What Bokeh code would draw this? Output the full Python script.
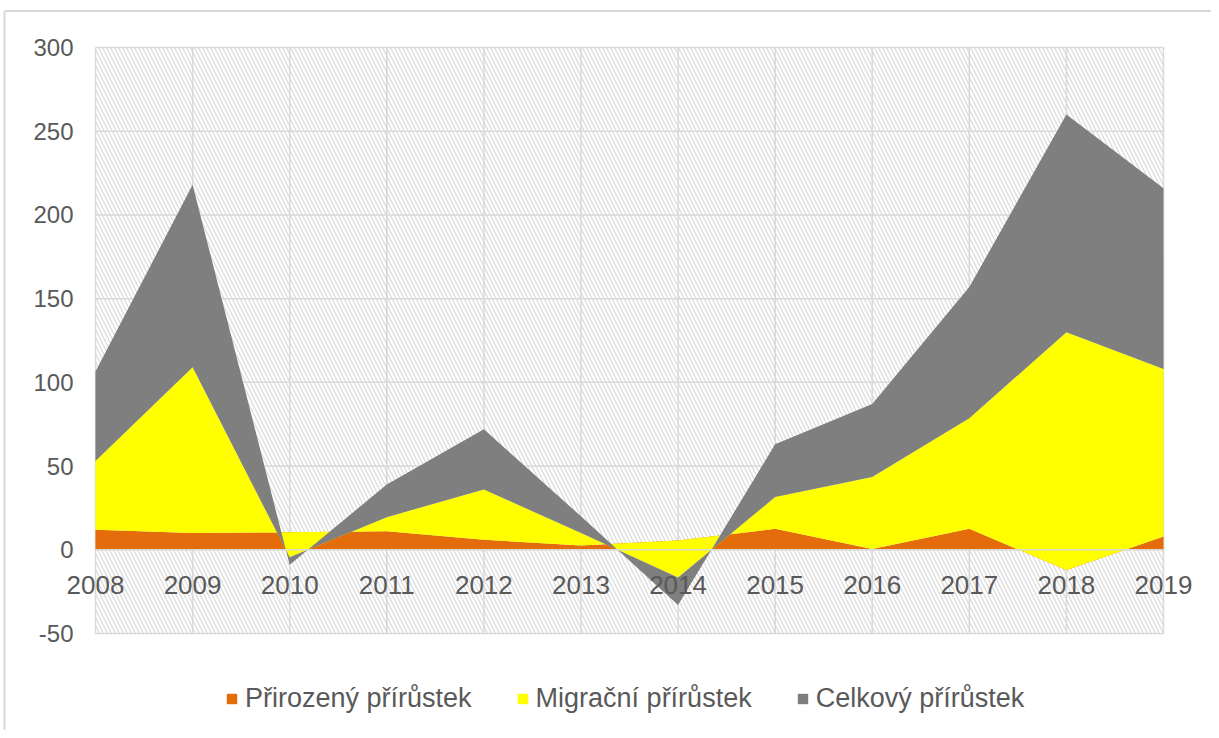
from bokeh.plotting import figure
from bokeh.models import (ColumnDataSource, Range1d, BoxAnnotation,
                          LabelSet, Legend, LegendItem)
from bokeh.core.properties import value
from bokeh.embed import file_html
from bokeh.resources import INLINE

# ---- data ----
years = [2008, 2009, 2010, 2011, 2012, 2013, 2014, 2015, 2016, 2017, 2018, 2019]
natural = [12, 10, 10.5, 11, 6, 2.5, 5.5, 12.5, 0.5, 12.5, -12, 8]          # Přirozený přírůstek
migration = [41, 99, -15, 8.5, 30, 7.5, -22, 19, 43, 66, 142, 100]          # Migrační přírůstek
total = [53.5, 109, -4.5, 19.5, 36, 10, -16.5, 31.5, 43.5, 78.5, 130, 108]  # Celkový přírůstek
series_names = ["Přirozený přírůstek", "Migrační přírůstek", "Celkový přírůstek"]
series_colors = ["#E46C0A", "#FFFF00", "#7F7F7F"]
y_ticks = [-50, 0, 50, 100, 150, 200, 250, 300]

FONT = "Liberation Sans"
TXT = "#595959"
GRID = "#d9d9d9"

# ---- layout (pixels) ----
W, H = 1211, 730
PL, PR, PT, PB = 95, 1163, 47, 633           # plot-area edges in pixels
x0, x1 = years[0], years[-1]
y0, y1 = y_ticks[0], y_ticks[-1]
xs = (PR - PL) / (x1 - x0)
ys = (PB - PT) / (y1 - y0)
def px2x(px):
    return x0 + (px - PL) / xs
def px2y(py):
    return y1 - (py - PT) / ys

p = figure(width=W, height=H, output_backend="svg", toolbar_location=None,
           x_axis_location=None, y_axis_location=None,
           x_range=Range1d(px2x(0), px2x(W)), y_range=Range1d(px2y(H), px2y(0)),
           min_border=0)
p.background_fill_color = "white"
p.border_fill_color = "white"
p.outline_line_color = None
p.grid.visible = False

# outer chart-area border (left and top edges)
p.segment(x0=[px2x(4), px2x(4)], y0=[px2y(10.5), px2y(10.5)],
          x1=[px2x(4), px2x(1300)], y1=[px2y(800), px2y(10.5)],
          line_color=GRID, line_width=2)

# hatched plot-area background
p.add_layout(BoxAnnotation(left=x0, right=x1, bottom=y0, top=y1,
                           fill_alpha=0, line_alpha=0, hatch_pattern="\\", hatch_color="#dcdcdc",
                           hatch_scale=8, hatch_weight=1.3, level="underlay"))

# gridlines limited to the plot area
p.segment(x0=years, x1=years, y0=[y0] * len(years), y1=[y1] * len(years),
          line_color=GRID, line_width=1.5)
p.segment(x0=[x0] * len(y_ticks), x1=[x1] * len(y_ticks), y0=y_ticks, y1=y_ticks,
          line_color=GRID, line_width=1.5)

# stacked areas
src = ColumnDataSource(dict(year=years, n=natural, m=migration, t=total))
rs = p.varea_stack(stackers=["n", "m", "t"], x="year", color=series_colors, source=src)

# category axis line at zero, drawn over the areas
p.segment(x0=x0, y0=0, x1=x1, y1=0, line_color=GRID, line_width=1.5)

# year labels below the zero line
lab_src = ColumnDataSource(dict(year=years, y=[0] * len(years), label=[str(v) for v in years]))
p.add_layout(LabelSet(x="year", y="y", text="label", source=lab_src, text_align="center",
                      text_baseline="middle", y_offset=-35, text_font=value(FONT),
                      text_font_size="26px", text_color=TXT))

# y tick labels
ytl_src = ColumnDataSource(dict(x=[x0] * len(y_ticks), y=y_ticks, label=[str(v) for v in y_ticks]))
p.add_layout(LabelSet(x="x", y="y", text="label", source=ytl_src, text_align="right",
                      text_baseline="middle", x_offset=-22, text_font=value(FONT),
                      text_font_size="24px", text_color=TXT))

legend = Legend(items=[LegendItem(label=nm, renderers=[r]) for nm, r in zip(series_names, rs)],
                orientation="horizontal", location=(215, 6),
                label_text_font=FONT, label_text_font_size="27px", label_text_color=TXT,
                glyph_width=13, glyph_height=13, label_standoff=7, spacing=44,
                border_line_alpha=0, background_fill_alpha=0, margin=0, padding=10)
p.add_layout(legend)

open("out.html", "w").write(file_html(p, INLINE))
